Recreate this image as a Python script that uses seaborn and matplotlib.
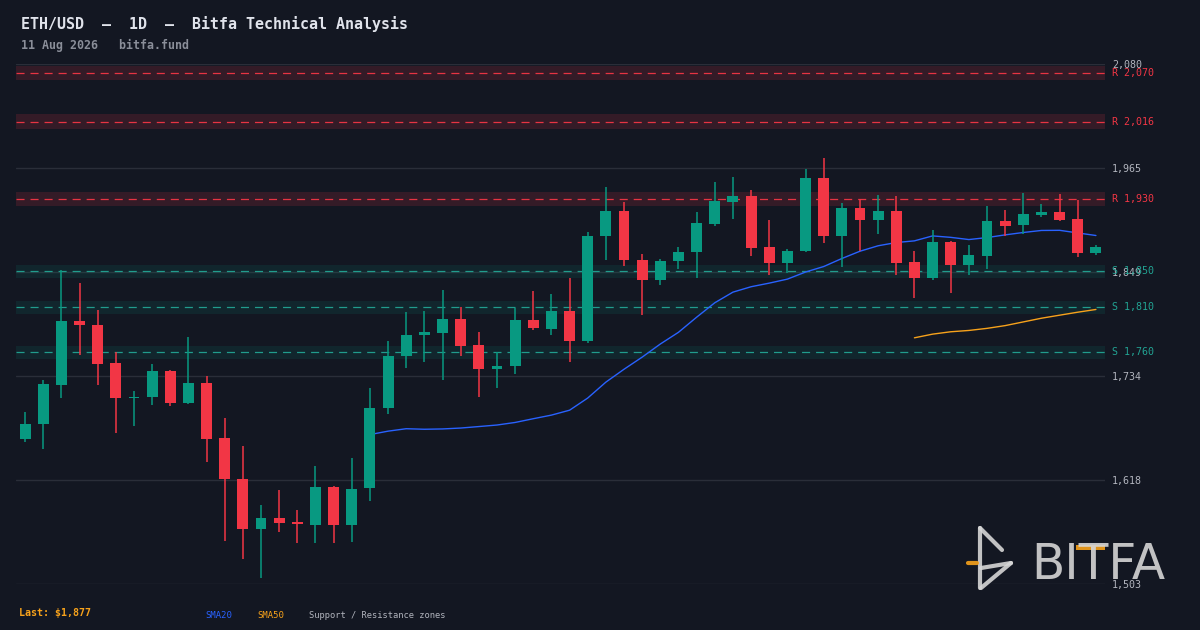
import numpy as np
import pandas as pd
import matplotlib
matplotlib.use("Agg")
import matplotlib.pyplot as plt
import seaborn as sns
from matplotlib.lines import Line2D
from matplotlib.patches import Rectangle

# ---------------- data ----------------
opens = [1664, 1680, 1724, 1795, 1790, 1748, 1709, 1710, 1739, 1704,
         1726, 1665, 1620, 1564, 1576, 1572, 1569, 1611, 1569, 1609,
         1698, 1756, 1779, 1782, 1797, 1768, 1742, 1745, 1796, 1786,
         1806, 1773, 1889, 1917, 1862, 1840, 1861, 1871, 1903, 1927,
         1934, 1877, 1859, 1872, 1954, 1889, 1920, 1907, 1917, 1860,
         1843, 1883, 1857, 1867, 1906, 1901, 1913, 1916, 1908, 1870]
highs = [1694, 1729, 1851, 1837, 1807, 1760, 1717, 1747, 1740, 1777,
         1734, 1687, 1656, 1591, 1607, 1585, 1634, 1612, 1643, 1721,
         1773, 1805, 1806, 1829, 1810, 1783, 1760, 1809, 1828, 1825,
         1843, 1894, 1944, 1927, 1869, 1864, 1877, 1916, 1949, 1955,
         1940, 1907, 1875, 1964, 1976, 1926, 1930, 1935, 1934, 1873,
         1896, 1884, 1879, 1922, 1918, 1937, 1925, 1936, 1929, 1879]
lows = [1661, 1653, 1709, 1757, 1724, 1670, 1678, 1702, 1701, 1703,
        1638, 1551, 1531, 1510, 1561, 1548, 1549, 1549, 1550, 1595,
        1692, 1743, 1749, 1729, 1756, 1711, 1721, 1736, 1785, 1779,
        1749, 1770, 1863, 1856, 1802, 1835, 1852, 1842, 1900, 1908,
        1867, 1846, 1848, 1871, 1881, 1855, 1873, 1891, 1846, 1820,
        1840, 1826, 1846, 1853, 1889, 1891, 1910, 1906, 1866, 1868]
closes = [1680, 1725, 1795, 1790, 1747, 1709, 1711, 1739, 1704, 1726,
          1664, 1619, 1564, 1576, 1571, 1570, 1611, 1569, 1608, 1698,
          1756, 1779, 1783, 1797, 1767, 1742, 1745, 1796, 1787, 1806,
          1773, 1889, 1917, 1862, 1840, 1861, 1871, 1904, 1928, 1934,
          1876, 1859, 1872, 1954, 1889, 1920, 1907, 1917, 1859, 1843,
          1883, 1857, 1868, 1906, 1900, 1914, 1916, 1907, 1870, 1877]

resistance_levels = [2070, 2016, 1930]
support_levels = [1850, 1810, 1760]

ytick_values = [1503, 1618, 1734, 1849, 1965, 2080]
ytick_labels = ["1,503", "1,618", "1,734", "1,849", "1,965", "2,080"]

title_text = "ETH/USD  \u2013  1D  \u2013  Bitfa Technical Analysis"
subtitle_text = "11 Aug 2026   bitfa.fund"
last_text = "Last: $1,877"
legend_texts = ["SMA20", "SMA50", "Support / Resistance zones"]

# ---------------- style ----------------
BG = "#131722"
GREEN = "#089981"
RED = "#f23645"
TEAL_LINE = "#22a393"
BLUE = "#2962ff"
ORANGE = "#f7a21b"
GRID = "#2a2e39"
TXT = "#b2b5be"
MONO = ["DejaVu Sans Mono"]

sns.set_theme(style="dark")
plt.rcParams["font.family"] = MONO
plt.rcParams["lines.scale_dashes"] = False

df = pd.DataFrame({"i": np.arange(len(closes)), "open": opens, "high": highs,
                   "low": lows, "close": closes})
df["sma20"] = df["close"].rolling(20).mean()
df["sma50"] = df["close"].rolling(50).mean()

W, H = 1200, 630
fig = plt.figure(figsize=(12, 6.3), dpi=100, facecolor=BG)
ax = fig.add_axes([16 / W, 1 - 584 / H, (1105 - 16) / W, (584 - 64) / H])
ax.set_facecolor(BG)
for s in ax.spines.values():
    s.set_visible(False)

ax.set_xlim(-0.5, len(closes) - 0.5)
ax.set_ylim(ytick_values[0], ytick_values[-1])

# grid lines
for v in ytick_values:
    ax.axhline(v, color=GRID, lw=1.0, zorder=0.5)

DASH = (0, (5.8, 4.3))
# zones
for lvl in resistance_levels:
    w = lvl * 0.004
    ax.axhspan(lvl - w, lvl + w, color=RED, alpha=0.15, lw=0, zorder=0.6)
    ax.axhline(lvl, color=RED, lw=0.9, ls=DASH, alpha=0.95, zorder=0.7)
for lvl in support_levels:
    w = lvl * 0.004
    ax.axhspan(lvl - w, lvl + w, color=GREEN, alpha=0.12, lw=0, zorder=0.6)
    ax.axhline(lvl, color=TEAL_LINE, lw=0.9, ls=DASH, alpha=0.95, zorder=0.7)

# SMA lines (behind candles)
sns.lineplot(data=df, x="i", y="sma20", ax=ax, color=BLUE, lw=1.0, zorder=2)
sns.lineplot(data=df, x="i", y="sma50", ax=ax, color=ORANGE, lw=1.0, zorder=2)

# candles
up = df["close"] >= df["open"]
cols = np.where(up, GREEN, RED)
ax.vlines(df["i"], df["low"], df["high"], colors=cols, lw=1.1, zorder=3)
body_bottom = np.minimum(df["open"], df["close"])
body_h = np.maximum(np.abs(df["close"] - df["open"]), 1.6)
ax.bar(df["i"], body_h, bottom=body_bottom, width=0.6, color=cols, lw=0, zorder=4)

# axes labels
ax.set_xlabel("")
ax.set_ylabel("")
ax.set_xticks([])
ax.yaxis.tick_right()
ax.set_yticks(ytick_values)
ax.set_yticklabels(ytick_labels)
ax.tick_params(axis="y", length=0, pad=5, labelsize=7.2, labelcolor=TXT)
ax.grid(False)

for lvl in resistance_levels:
    ax.annotate(f"R {lvl:,}", xy=(1, lvl), xycoords=("axes fraction", "data"),
                xytext=(5, 0), textcoords="offset points", va="center", ha="left",
                fontsize=7.2, color=RED, family=MONO)
for lvl in support_levels:
    ax.annotate(f"S {lvl:,}", xy=(1, lvl), xycoords=("axes fraction", "data"),
                xytext=(5, 0), textcoords="offset points", va="center", ha="left",
                fontsize=7.2, color=TEAL_LINE, family=MONO)

# titles
fig.text(21 / W, 1 - 24 / H, title_text, fontsize=10.8, fontweight="bold",
         color="#e0e3eb", va="center", ha="left", family=MONO)
fig.text(21 / W, 1 - 45 / H, subtitle_text, fontsize=8.4, fontweight="bold",
         color="#8a8e99", va="center", ha="left", family=MONO)

# bottom legend
fig.text(19 / W, 1 - 613 / H, last_text, fontsize=7.2, fontweight="bold",
         color=ORANGE, va="center", ha="left", family=MONO)
fig.text(205 / W, 1 - 615 / H, legend_texts[0], fontsize=6.4, color=BLUE,
         va="center", ha="left", family=MONO)
fig.text(257 / W, 1 - 615 / H, legend_texts[1], fontsize=6.4, color=ORANGE,
         va="center", ha="left", family=MONO)
fig.text(309 / W, 1 - 615 / H, legend_texts[2], fontsize=6.3, color=TXT,
         va="center", ha="left", family=MONO)

# watermark logo
def px(x, y):
    return x / W, 1 - y / H

LOGO = "#d6d6d6"
strokes = [((980, 528), (980, 588)),
           ((980, 528), (1002, 550)),
           ((981, 568), (1011, 563)),
           ((1011, 563), (981, 588))]
for (a, b) in strokes:
    (x0, y0), (x1, y1) = px(*a), px(*b)
    fig.add_artist(Line2D([x0, x1], [y0, y1], transform=fig.transFigure,
                          color=LOGO, lw=3.0, solid_capstyle="round",
                          solid_joinstyle="round", alpha=0.9))
(x0, y0), (x1, y1) = px(968, 563), px(977, 563)
fig.add_artist(Line2D([x0, x1], [y0, y1], transform=fig.transFigure,
                      color=ORANGE, lw=3.0, alpha=0.9))
fig.text(1031 / W, 1 - 565 / H, "BITFA", fontsize=35, color=LOGO, alpha=0.9,
         va="center", ha="left", family=["DejaVu Sans"])
x0, y0 = px(1076, 550)
fig.add_artist(Rectangle((x0, y0), 29 / W, 5 / H, transform=fig.transFigure,
                         color=ORANGE, lw=0, alpha=0.9))

fig.savefig("out.png", dpi=100, facecolor=BG)
